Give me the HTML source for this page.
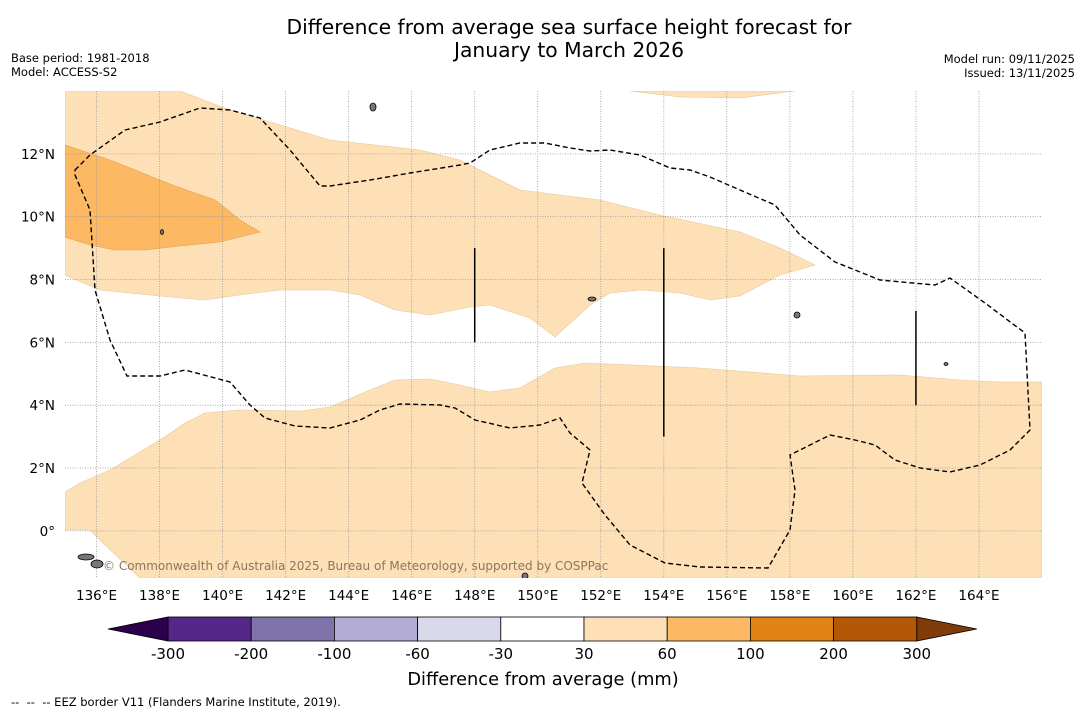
<!DOCTYPE html>
<html><head><meta charset="utf-8"><style>
body{margin:0;background:#fff;font-family:"DejaVu Sans","Liberation Sans",sans-serif;}
svg text{font-family:"DejaVu Sans","Liberation Sans",sans-serif;}
</style></head><body>
<svg id="chart" width="1085" height="713" viewBox="0 0 1085 713" xmlns="http://www.w3.org/2000/svg">
<rect width="1085" height="713" fill="#fff"/>
<text x="569" y="34" font-size="20.3" text-anchor="middle">Difference from average sea surface height forecast for</text>
<text x="569" y="57" font-size="20.3" text-anchor="middle">January to March 2026</text>
<text x="11" y="62" font-size="11.5">Base period: 1981-2018</text>
<text x="11" y="76" font-size="11.5">Model: ACCESS-S2</text>
<text x="1075" y="63" font-size="11.5" text-anchor="end">Model run: 09/11/2025</text>
<text x="1075" y="77" font-size="11.5" text-anchor="end">Issued: 13/11/2025</text>
<defs><clipPath id="mapclip"><rect x="65" y="91" width="977" height="487"/></clipPath></defs>
<g id="map" clip-path="url(#mapclip)"></g>
<g id="axes"></g>
<g id="cbar"></g>
<text x="543" y="685" font-size="17.8" text-anchor="middle">Difference from average (mm)</text>
<text x="11" y="706" font-size="11.5" xml:space="preserve">--  --  -- EEZ border V11 (Flanders Marine Institute, 2019).</text>
</svg>
<script>
const lonTicks=[136,138,140,142,144,146,148,150,152,154,156,158,160,162,164];
const latTicks=[0,2,4,6,8,10,12];
const cbLevels=[-300,-200,-100,-60,-30,30,60,100,200,300];
const cbColors=["#542788","#8073ac","#b2abd2","#d8daeb","#ffffff","#fee0b6","#fdb863","#e08214","#b35806"];
const lonMin=135,lonMax=166,latMin=-1.5,latMax=14;
const X0=65,X1=1042,Y0=91,Y1=578;
function xs(lon){return X0+(lon-lonMin)/(lonMax-lonMin)*(X1-X0);}
function ys(lat){return Y1-(lat-latMin)/(latMax-latMin)*(Y1-Y0);}
const NS="http://www.w3.org/2000/svg";
function mk(tag,attrs,parent){const e=document.createElementNS(NS,tag);for(const k in attrs)e.setAttribute(k,attrs[k]);parent.appendChild(e);return e;}
const map=document.getElementById('map');
const lightUpper=[[65,91],[180,91],[230,110],[330,140],[420,150],[460,160],[520,190],[600,200],[660,215],[740,232],[780,248],[815,265],[780,275],[740,296],[710,300],[680,293],[640,290],[610,293],[590,305],[555,337],[530,318],[490,305],[470,307],[430,315],[395,310],[360,295],[330,290],[280,290],[240,295],[205,300],[170,297],[100,290],[65,275]];
const darkUpper=[[65,145],[110,160],[175,186],[215,200],[240,220],[260,232],[220,242],[180,246],[145,250],[115,250],[90,245],[65,237]];
const lightTop=[[630,91],[795,91],[740,98],[680,97]];
const lightLower=[[65,492],[80,483],[110,470],[135,455],[160,440],[185,423],[205,413],[240,410],[300,411],[330,407],[370,390],[395,380],[430,379],[460,385],[490,392],[520,388],[555,368],[585,363],[700,368],[800,376],[900,375],[960,380],[1000,382],[1042,382],[1042,578],[140,578],[100,540],[90,530],[65,530]];
const eez=[[75,170],[90,155],[125,130],[160,122],[200,108],[230,110],[260,118],[290,150],[320,186],[330,186],[370,180],[410,173],[460,165],[470,163],[490,150],[520,143],[545,143],[570,148],[590,151],[610,150],[640,155],[670,168],[690,170],[710,177],[740,190],[775,205],[800,235],[835,262],[880,280],[935,285],[950,278],[985,303],[1025,333],[1030,430],[1010,450],[980,465],[950,472],[920,468],[895,460],[875,445],[855,440],[830,435],[810,445],[790,455],[795,490],[790,530],[768,568],[700,567],[665,563],[630,545],[605,515],[582,483],[590,450],[570,433],[560,418],[540,425],[510,428],[475,420],[455,408],[440,405],[400,404],[380,410],[360,420],[330,428],[295,426],[265,418],[250,405],[230,382],[185,370],[160,376],[127,376],[110,340],[95,290],[90,210],[75,175]];
const pts=a=>a.map(p=>p.join(',')).join(' ');
let e;
e=mk('polygon',{points:pts(lightUpper),fill:'#fee0b6',stroke:'#e8c79a','stroke-width':0.6},map);


e=mk('polygon',{points:pts(darkUpper),fill:'#fdb863',stroke:'#e0a050','stroke-width':0.6},map);


e=mk('polygon',{points:pts(lightTop),fill:'#fee0b6',stroke:'#e8c79a','stroke-width':0.6},map);


e=mk('polygon',{points:pts(lightLower),fill:'#fee0b6',stroke:'#e8c79a','stroke-width':0.6},map);


lonTicks.forEach(l=>{const g=mk('line',{x1:xs(l),x2:xs(l),y1:Y0,y2:Y1,stroke:'#999','stroke-width':0.8,'stroke-dasharray':'1,1.5'},map);

});
latTicks.forEach(l=>{const g=mk('line',{x1:X0,x2:X1,y1:ys(l),y2:ys(l),stroke:'#999','stroke-width':0.8,'stroke-dasharray':'1,1.5'},map);

});
e=mk('polygon',{points:pts(eez),fill:'none',stroke:'#000','stroke-width':1.4,'stroke-dasharray':'5,3'},map);


[[148,9,6],[154,9,3],[162,7,4]].forEach(v=>{const l=mk('line',{x1:xs(v[0]),x2:xs(v[0]),y1:ys(v[1]),y2:ys(v[2]),stroke:'#000','stroke-width':1.5},map);

});
[[373,107,3,4],[797,315,3,3],[592,299,4,2],[86,557,8,3],[97,564,6,4],[162,232,1.5,2.5],[946,364,2,1.5],[525,576,3,3]].forEach(i=>{const el=mk('ellipse',{cx:i[0],cy:i[1],rx:i[2],ry:i[3],fill:'#777',stroke:'#000','stroke-width':0.8},map);

});
e=mk('text',{x:103,y:570,'font-size':12,fill:'#8a7660'},map);e.textContent='© Commonwealth of Australia 2025, Bureau of Meteorology, supported by COSPPac';


const axes=document.getElementById('axes');
lonTicks.forEach(l=>{const t=mk('text',{x:xs(l),y:600,'font-size':13.5,'text-anchor':'middle'},axes);t.textContent=l+'°E';

});
latTicks.forEach(l=>{const t=mk('text',{x:55,y:ys(l)+5,'font-size':13.5,'text-anchor':'end'},axes);t.textContent=l===0?'0°':l+'°N';

});
const cb=document.getElementById('cbar');
const cbX0=168,cbW=83.2,cbY=617,cbH=24;
cbColors.forEach((c,i)=>{const r=mk('rect',{x:cbX0+i*cbW,y:cbY,width:cbW,height:cbH,fill:c,stroke:'#000','stroke-width':0.8},cb);

});
const cbEnd=cbX0+cbColors.length*cbW;
e=mk('polygon',{points:`${cbX0},${cbY} 108,${cbY+cbH/2} ${cbX0},${cbY+cbH}`,fill:'#2d004b',stroke:'#000','stroke-width':0.8},cb);


e=mk('polygon',{points:`${cbEnd},${cbY} ${cbEnd+60},${cbY+cbH/2} ${cbEnd},${cbY+cbH}`,fill:'#7f3b08',stroke:'#000','stroke-width':0.8},cb);


cbLevels.forEach((v,i)=>{const t=mk('text',{x:cbX0+i*cbW,y:659,'font-size':15,'text-anchor':'middle'},cb);t.textContent=v;

});
</script>
</body></html>
